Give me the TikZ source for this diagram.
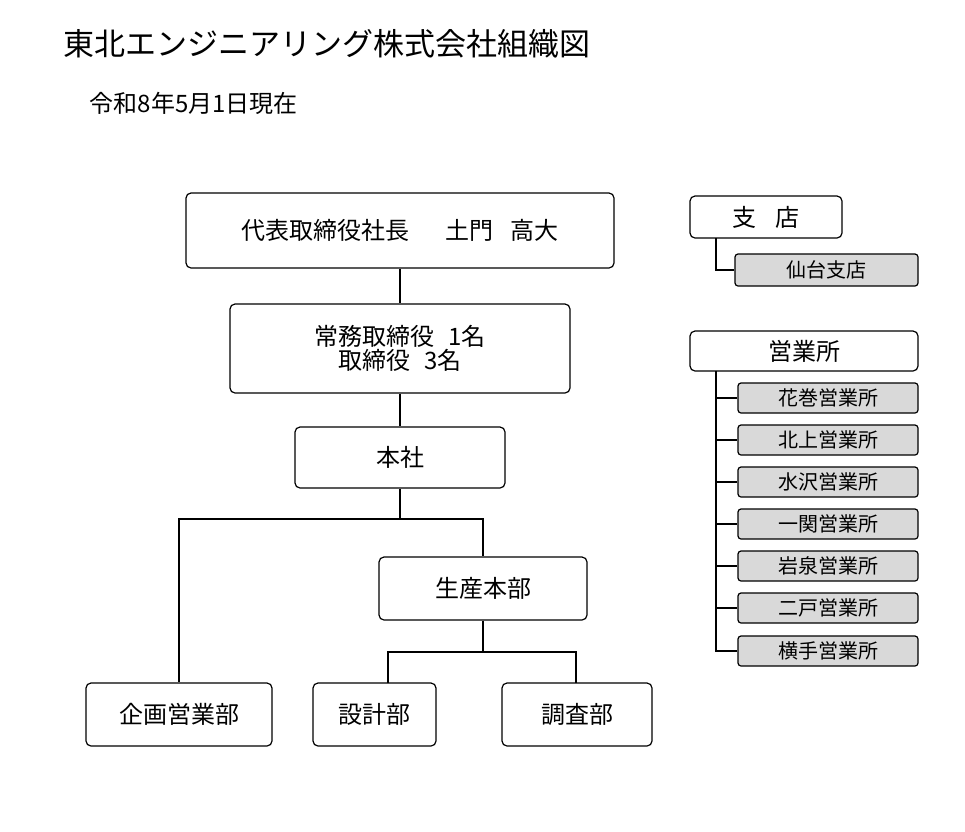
\documentclass[tikz,border=0pt]{standalone}
\usepackage{fontspec}
\setmainfont{Noto Sans CJK JP}
\definecolor{sub}{HTML}{D9D9D9}
\begin{document}
\begin{tikzpicture}[x=1pt,y=-1pt,line width=1.2pt,
  box/.style={draw,rounded corners=5pt,font=\fontsize{24}{28}\selectfont,align=center,inner sep=0pt},
  sbox/.style={draw,rounded corners=3pt,fill=sub,font=\fontsize{20}{24}\selectfont,inner sep=0pt,minimum width=180pt,minimum height=30pt},
  ln/.style={line width=1.2pt}]
\useasboundingbox (0,0) rectangle (965,831);
\node[anchor=west,font=\fontsize{31}{36}\selectfont] (title) at (60,44) {東北エンジニアリング株式会社組織図};
\node[anchor=west,font=\fontsize{24}{28}\selectfont] (date) at (86,103) {令和8年5月1日現在};
\node[box,minimum width=428pt,minimum height=75pt] (ceo) at (400,230.5) {代表取締役社長\hspace{1.5em}土門\hspace{0.7em}高大};
\node[box,minimum width=340pt,minimum height=89pt] (dir) at (400,348.5) {常務取締役\hspace{0.6em}1名\\[-4pt]取締役\hspace{0.6em}3名};
\node[box,minimum width=210pt,minimum height=61pt] (hq) at (400,457.5) {本社};
\node[box,minimum width=208pt,minimum height=63pt] (prod) at (483,588.5) {生産本部};
\node[box,minimum width=186pt,minimum height=63pt] (plan) at (179,714.5) {企画営業部};
\node[box,minimum width=123pt,minimum height=63pt] (des) at (374.5,714.5) {設計部};
\node[box,minimum width=150pt,minimum height=63pt] (sur) at (577,714.5) {調査部};
\node[box,minimum width=152pt,minimum height=42pt] (br) at (766,217) {支\hspace{0.8em}店};
\node[sbox,minimum width=183pt,minimum height=32pt] (sendai) at (826.5,270) {仙台支店};
\node[box,minimum width=228pt,minimum height=40pt] (off) at (804,351) {営業所};
\node[sbox] (o1) at (828,398) {花巻営業所};
\node[sbox] (o2) at (828,440) {北上営業所};
\node[sbox] (o3) at (828,482) {水沢営業所};
\node[sbox] (o4) at (828,524) {一関営業所};
\node[sbox] (o5) at (828,566) {岩泉営業所};
\node[sbox] (o6) at (828,608) {二戸営業所};
\node[sbox] (o7) at (828,651) {横手営業所};
\draw[ln] (ceo.south) -- (dir.north);
\draw[ln] (dir.south) -- (hq.north);
\draw[ln] (hq.south) -- (400,519) -| (plan.north);
\draw[ln] (400,519) -| (prod.north);
\draw[ln] (prod.south) -- (483,652) -| (388,683);
\draw[ln] (483,652) -| (576,683);
\draw[ln] (716,238) |- (sendai.west);
\foreach \i in {1,...,7} \draw[ln] (716,371) |- (o\i.west);
\end{tikzpicture}
\end{document}
